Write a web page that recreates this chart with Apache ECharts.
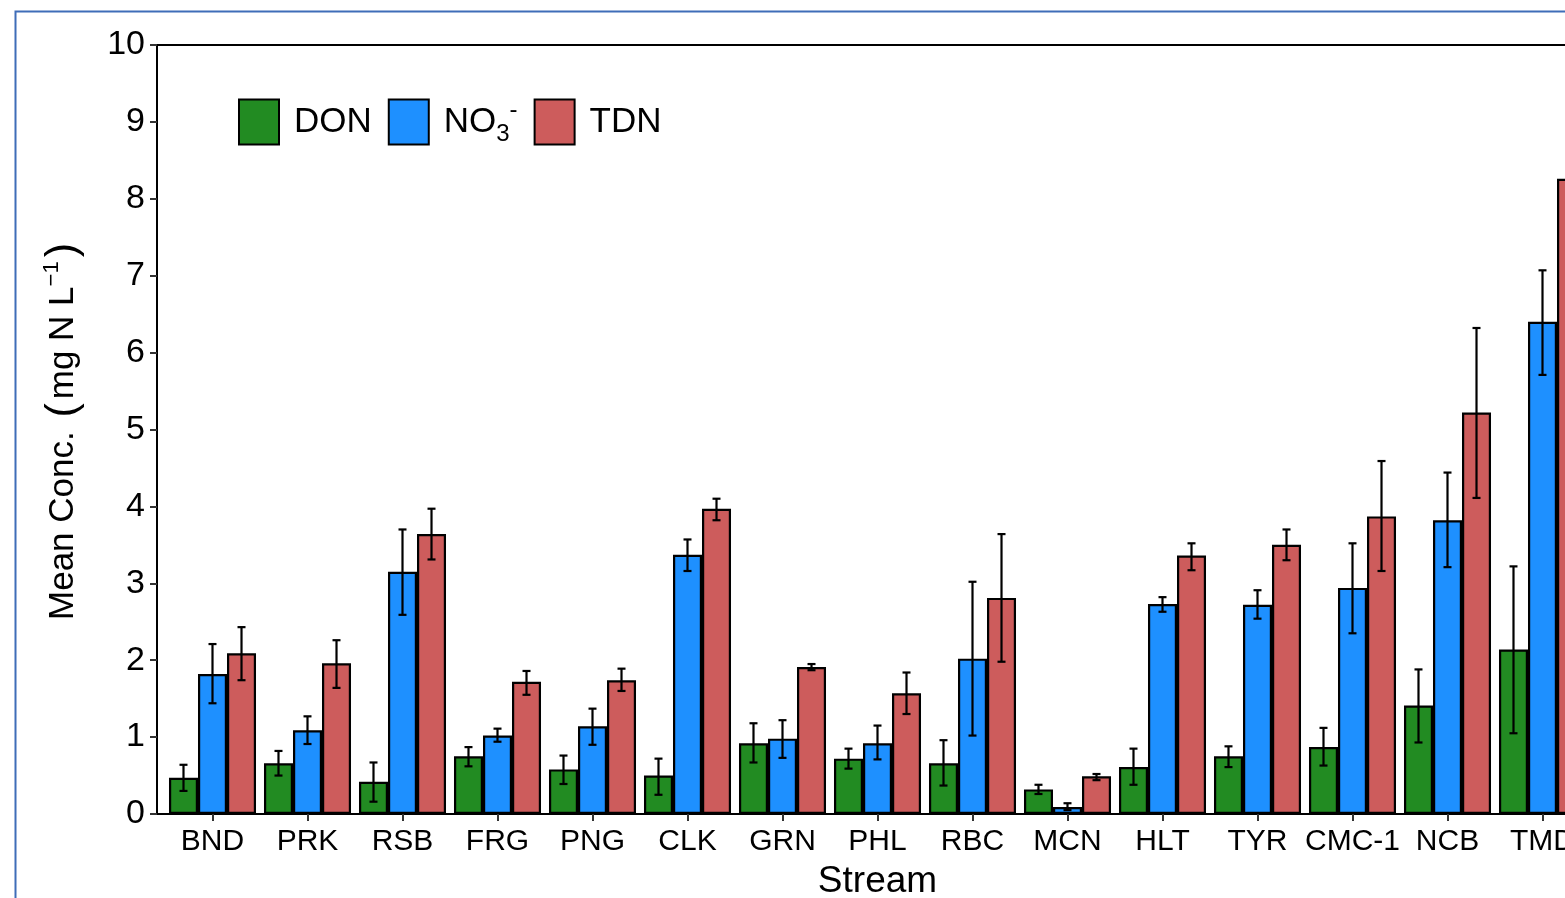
<!DOCTYPE html>
<html>
<head>
<meta charset="utf-8">
<script src="https://cdn.jsdelivr.net/npm/echarts@6/dist/echarts.min.js"></script>
<style>
html,body{margin:0;padding:0;background:#fff;}
#chart{width:1565px;height:898px;}
</style>
</head>
<body>
<div id="chart"></div>
<script>
// ---- data ----
const categories = ['BND','PRK','RSB','FRG','PNG','CLK','GRN','PHL','RBC','MCN','HLT','TYR','CMC-1','NCB','TMD'];
const don      = [0.47,0.66,0.42,0.75,0.58,0.50,0.92,0.72,0.66,0.32,0.61,0.75,0.87,1.41,2.14];
const donLow   = [0.30,0.50,0.16,0.62,0.39,0.25,0.67,0.59,0.37,0.26,0.38,0.61,0.63,0.93,1.05];
const donHigh  = [0.64,0.82,0.67,0.87,0.76,0.72,1.18,0.85,0.96,0.38,0.85,0.88,1.12,1.88,3.22];
const no3      = [1.82,1.09,3.15,1.02,1.14,3.37,0.98,0.92,2.02,0.09,2.73,2.72,2.94,3.82,6.40];
const no3Low   = [1.44,0.91,2.59,0.94,0.90,3.16,0.73,0.71,1.02,0.05,2.63,2.54,2.35,3.21,5.71];
const no3High  = [2.21,1.27,3.70,1.11,1.37,3.57,1.22,1.15,3.02,0.14,2.82,2.91,3.52,4.44,7.07];
const tdn      = [2.09,1.96,3.64,1.72,1.74,3.97,1.91,1.57,2.81,0.49,3.36,3.50,3.87,5.22,8.26];
const tdnLow   = [1.74,1.64,3.31,1.55,1.60,3.82,1.87,1.30,1.98,0.44,3.17,3.30,3.16,4.11,7.30];
const tdnHigh  = [2.43,2.26,3.97,1.86,1.89,4.10,1.95,1.84,3.64,0.52,3.52,3.70,4.59,6.32,9.20];
const seriesNames = ['DON','NO3-','TDN'];
const yTicks = [0,1,2,3,4,5,6,7,8,9,10];

// ---- styling ----
const FONT = "'Liberation Sans', Arial, sans-serif";
const COLORS = ['#228B22','#1E90FF','#CD5C5C'];
const CAT_GAP = 0.084;

const chart = echarts.init(document.getElementById('chart'), null, {renderer:'canvas'});

function errSeries(k, low, high){
  return {
    type:'custom', name:'err'+k, xAxisIndex:1, yAxisIndex:1, z:10,
    data: categories.map((c,i)=>[i, low[i], high[i]]),
    encode:{x:0, y:[1,2]},
    silent:true,
    renderItem:function(params, api){
      const band = api.size([1,0])[0];
      const bw = band*(1-CAT_GAP)/3;
      const cx = api.coord([api.value(0), 0])[0] + (k-1)*bw;
      const yl = api.coord([api.value(0), api.value(1)])[1];
      const yh = api.coord([api.value(0), api.value(2)])[1];
      const cap = 4;
      const st = {stroke:'#000', lineWidth:2.2};
      return {type:'group', children:[
        {type:'line', shape:{x1:cx,y1:yl,x2:cx,y2:yh}, style:st},
        {type:'line', shape:{x1:cx-cap,y1:yl,x2:cx+cap,y2:yl}, style:st},
        {type:'line', shape:{x1:cx-cap,y1:yh,x2:cx+cap,y2:yh}, style:st}
      ]};
    }
  };
}

function barSeries(k, vals){
  return {
    type:'bar', name:seriesNames[k], xAxisIndex:1, yAxisIndex:1,
    data: vals,
    barGap:'0%', barCategoryGap:(CAT_GAP*100)+'%',
    itemStyle:{color:COLORS[k], borderColor:'#000', borderWidth:2.2},
    emphasis:{disabled:true}
  };
}

const option = {
  animation:false,
  backgroundColor:'#fff',
  textStyle:{fontFamily:FONT},
  graphic:[{
    type:'rect', left:13, top:9, z:100,
    shape:{width:1600, height:950},
    style:{fill:'none', stroke:'#3F6DB8', lineWidth:2}
  }],
  legend:{
    data:seriesNames,
    left:238, top:98, padding:0,
    itemWidth:40, itemHeight:45, itemGap:16,
    icon:'rect',
    itemStyle:{borderColor:'#000', borderWidth:2},
    selectedMode:false,
    formatter:function(n){
      if(n==='NO3-') return '{m|NO}{sub|3}{sup|-}';
      return '{m|'+n+'}';
    },
    textStyle:{
      fontFamily:FONT, color:'#000', padding:[0,0,0,10],
      rich:{
        m:{fontSize:35, fontFamily:FONT, color:'#000', lineHeight:48, verticalAlign:'middle'},
        sub:{fontSize:24, fontFamily:FONT, color:'#000', lineHeight:20, verticalAlign:'bottom'},
        sup:{fontSize:24, fontFamily:FONT, color:'#000', lineHeight:20, verticalAlign:'top'}
      }
    }
  },
  grid:[
    {left:157, top:45, width:1442, height:769, show:true, borderColor:'#000', borderWidth:2, backgroundColor:'transparent', containLabel:false, outerBoundsMode:'none'},
    {left:165, top:45, width:1425, height:769, containLabel:false, outerBoundsMode:'none'}
  ],
  xAxis:[
    {type:'value', gridIndex:0, show:false, min:0, max:1},
    {type:'category', gridIndex:1, data:categories,
     axisLine:{show:false},
     axisTick:{show:true, alignWithLabel:true, length:7, lineStyle:{color:'#333', width:2}},
     axisLabel:{fontSize:30, color:'#000', margin:13, fontFamily:FONT, interval:0},
     name:'Stream', nameLocation:'middle', nameGap:49,
     nameTextStyle:{fontSize:37, color:'#000', fontFamily:FONT}
    }
  ],
  yAxis:[
    {type:'value', gridIndex:0, min:yTicks[0], max:yTicks[yTicks.length-1], interval:1,
     axisLine:{show:true, lineStyle:{color:'#000', width:2}},
     axisTick:{show:true, length:7, lineStyle:{color:'#333', width:2}},
     axisLabel:{fontSize:34, color:'#000', margin:12, fontFamily:FONT},
     splitLine:{show:false},
     name:'{t|Mean Conc. }{p|(}{t|mg N L}{s|\u22121}{p|)}',
     nameLocation:'middle', nameRotate:90, nameGap:72,
     nameTextStyle:{
       color:'#000', fontFamily:FONT,
       rich:{
         t:{fontSize:35, fontFamily:FONT, color:'#000', lineHeight:44, verticalAlign:'middle'},
         p:{fontSize:43, fontFamily:FONT, color:'#000', lineHeight:44, verticalAlign:'middle', padding:[0,4,0,4]},
         s:{fontSize:22, fontFamily:FONT, color:'#000', lineHeight:20, verticalAlign:'top'}
       }
     }
    },
    {type:'value', gridIndex:1, min:0, max:10, interval:1, show:false, splitLine:{show:false}}
  ],
  series:[
    barSeries(0, don), barSeries(1, no3), barSeries(2, tdn),
    errSeries(0, donLow, donHigh), errSeries(1, no3Low, no3High), errSeries(2, tdnLow, tdnHigh)
  ]
};
chart.setOption(option);
</script>
</body>
</html>
